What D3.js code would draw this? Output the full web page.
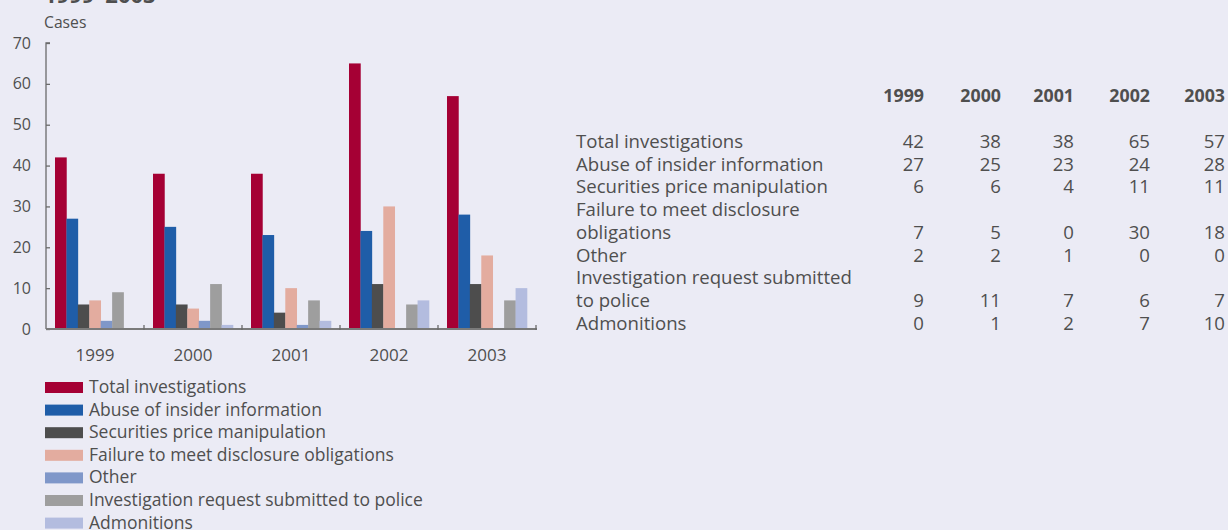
<!DOCTYPE html>
<html>
<head>
<meta charset="utf-8">
<script src="https://cdn.jsdelivr.net/npm/d3@7"></script>
<style>
  body { margin: 0; background: #ebebf5; }
  svg { display: block; font-family: "Open Sans", sans-serif; }
</style>
</head>
<body>
<div id="chart"></div>
<script>
// data
var years = ["1999", "2000", "2001", "2002", "2003"];
var seriesNames = ["Total investigations", "Abuse of insider information", "Securities price manipulation",
  "Failure to meet disclosure obligations", "Other", "Investigation request submitted to police", "Admonitions"];
var seriesColours = ["#a50034", "#1f5da8", "#4d4d4d", "#e3ac9f", "#7f97c9", "#9e9e9e", "#b3bcdf"];
var barValues = [
  [42, 38, 38, 65, 57],
  [27, 25, 23, 24, 28],
  [6, 6, 4, 11, 11],
  [7, 5, 10, 30, 18],
  [2, 2, 1, 0, 0],
  [9, 11, 7, 6, 7],
  [0, 1, 2, 7, 10]
];
// the table on the right, as printed
var tableLabels = [["Total investigations"], ["Abuse of insider information"], ["Securities price manipulation"],
  ["Failure to meet disclosure", "obligations"], ["Other"], ["Investigation request submitted", "to police"], ["Admonitions"]];
var tableValues = [
  [42, 38, 38, 65, 57],
  [27, 25, 23, 24, 28],
  [6, 6, 4, 11, 11],
  [7, 5, 0, 30, 18],
  [2, 2, 1, 0, 0],
  [9, 11, 7, 6, 7],
  [0, 1, 2, 7, 10]
];
var yTicks = [0, 10, 20, 30, 40, 50, 60, 70];

var width = 1228, height = 530;
var textCol = "#4f4f4f";

var svg = d3.select("#chart").append("svg")
  .attr("width", width)
  .attr("height", height);

// title, cut off at the top like the original
svg.append("text")
  .attr("x", 44).attr("y", 3)
  .attr("font-size", 22).attr("font-weight", "bold")
  .attr("fill", textCol)
  .text("1999–2003");

svg.append("text")
  .attr("x", 44).attr("y", 28)
  .attr("font-size", 15.7).attr("fill", textCol)
  .text("Cases");

// scales
var x0 = d3.scaleBand().domain(years).range([46, 536])
  .paddingInner(18 / 98).paddingOuter(9 / 98);
var x1 = d3.scaleBand().domain(d3.range(seriesNames.length)).range([0, x0.bandwidth()]);
var y = d3.scaleLinear().domain([0, 70]).range([329, 43]);

// bars
var groups = svg.append("g").selectAll("g")
  .data(years)
  .enter().append("g")
  .attr("transform", function(d) { return "translate(" + x0(d) + ",0)"; });

groups.selectAll("rect")
  .data(function(d, i) { return barValues.map(function(s, k) { return { k: k, v: s[i] }; }); })
  .enter().append("rect")
  .attr("x", function(d) { return x1(d.k); })
  .attr("width", x1.bandwidth() + 0.3)
  .attr("y", function(d) { return y(d.v); })
  .attr("height", function(d) { return y(0) - y(d.v); })
  .attr("fill", function(d) { return seriesColours[d.k]; });

// y axis
var yAxis = svg.append("g")
  .attr("transform", "translate(46,0)")
  .call(d3.axisRight(y).tickValues(yTicks).tickSize(4).tickFormat(""));
yAxis.selectAll("path, line").attr("stroke", "#6b6b6b").attr("stroke-width", 1.3);
yAxis.select(".domain").attr("d", "M4," + y(70) + "H0V" + y(0));

svg.append("g").selectAll("text")
  .data(yTicks)
  .enter().append("text")
  .attr("x", 31).attr("y", function(d) { return y(d) + 5.5; })
  .attr("text-anchor", "end")
  .attr("font-size", 16).attr("fill", textCol)
  .text(function(d) { return d; });

// x axis
var xAxis = svg.append("g")
  .attr("transform", "translate(0," + y(0) + ")");
xAxis.append("line")
  .attr("x1", 46).attr("x2", 537)
  .attr("stroke", "#7a7a7a").attr("stroke-width", 2);
xAxis.selectAll(".tk")
  .data(years)
  .enter().append("line")
  .attr("class", "tk")
  .attr("x1", function(d, i) { return 46 + x0.step() * (i + 1); })
  .attr("x2", function(d, i) { return 46 + x0.step() * (i + 1); })
  .attr("y1", -4).attr("y2", 1)
  .attr("stroke", "#6b6b6b").attr("stroke-width", 1.3);
xAxis.selectAll(".yl")
  .data(years)
  .enter().append("text")
  .attr("x", function(d) { return x0(d) + x0.bandwidth() / 2; })
  .attr("y", 32)
  .attr("text-anchor", "middle")
  .attr("font-size", 17).attr("fill", textCol)
  .text(function(d) { return d; });

// legend
var legend = svg.append("g").selectAll("g")
  .data(seriesNames)
  .enter().append("g")
  .attr("transform", function(d, i) { return "translate(45," + (382 + i * 22.6) + ")"; });
legend.append("rect")
  .attr("width", 38).attr("height", 11)
  .attr("fill", function(d, i) { return seriesColours[i]; });
legend.append("text")
  .attr("x", 44).attr("y", 11)
  .attr("font-size", 17.5).attr("fill", textCol)
  .text(function(d) { return d; });

// table
var colRight = [924, 1001, 1074, 1150, 1225];
var table = svg.append("g");
table.selectAll(".hd")
  .data(years)
  .enter().append("text")
  .attr("x", function(d, i) { return colRight[i]; })
  .attr("y", 102)
  .attr("text-anchor", "end")
  .attr("font-size", 17.8).attr("font-weight", "bold").attr("fill", textCol)
  .text(function(d) { return d; });

var lineH = 22.7;
var lineNo = 0;
tableLabels.forEach(function(lines, r) {
  lines.forEach(function(t) {
    table.append("text")
      .attr("x", 576).attr("y", 148 + lineNo * lineH)
      .attr("font-size", 18.6).attr("fill", textCol)
      .text(t);
    lineNo++;
  });
  var rowY = 148 + (lineNo - 1) * lineH;
  tableValues[r].forEach(function(v, c) {
    table.append("text")
      .attr("x", colRight[c]).attr("y", rowY)
      .attr("text-anchor", "end")
      .attr("font-size", 18.6).attr("fill", textCol)
      .text(v);
  });
});
</script>
</body>
</html>
